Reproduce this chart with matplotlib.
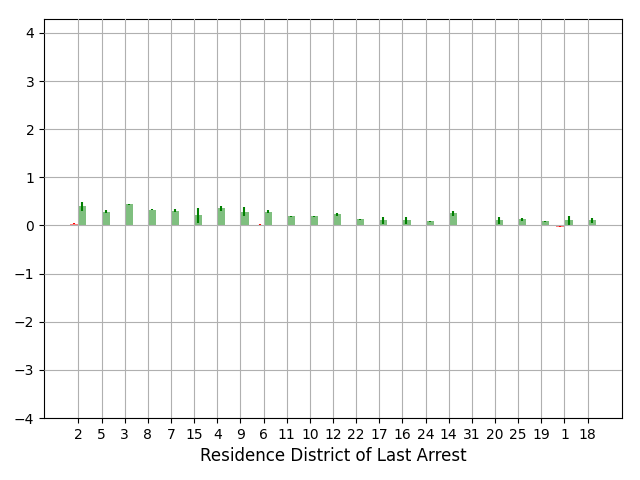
import numpy as np
import matplotlib
matplotlib.use("Agg")
import matplotlib.pyplot as plt

districts = ["2", "5", "3", "8", "7", "15", "4", "9", "6", "11", "10", "12",
             "22", "17", "16", "24", "14", "31", "20", "25", "19", "1", "18"]
red_vals = [0.04, 0.02, 0.01, 0.0, 0.0, 0.01, 0.0, -0.01, 0.01, 0.0, 0.0, 0.0,
            0.0, 0.0, 0.0, 0.0, 0.0, np.nan, 0.0, 0.0, 0.0, -0.025, 0.0]
red_err = [0.015, 0.0, 0.01, 0.0, 0.0, 0.01, 0.0, 0.01, 0.015, 0.005, 0.005, 0.005,
           0.005, 0.005, 0.005, 0.005, 0.005, np.nan, 0.0, 0.0, 0.0, 0.01, 0.0]
green_vals = [0.395, 0.29, 0.436, 0.33, 0.31, 0.21, 0.355, 0.29, 0.29, 0.187, 0.187, 0.229,
              0.125, 0.104, 0.104, 0.083, 0.25, np.nan, 0.104, 0.125, 0.083, 0.104, 0.104]
green_err = [0.09, 0.04, 0.01, 0.015, 0.03, 0.15, 0.05, 0.1, 0.04, 0.02, 0.01, 0.025,
             0.01, 0.08, 0.07, 0.01, 0.05, np.nan, 0.07, 0.035, 0.02, 0.09, 0.06]

fig, ax = plt.subplots(figsize=(6.4, 4.8), dpi=100)
ind = np.arange(len(districts))
width = 0.35
ax.bar(ind - width / 2, red_vals, width, color='red', alpha=0.5,
       yerr=red_err, error_kw=dict(ecolor='red', elinewidth=1.5))
ax.bar(ind + width / 2, green_vals, width, color='green', alpha=0.5,
       yerr=green_err, error_kw=dict(ecolor='green', elinewidth=1.5))
ax.set_xticks(ind)
ax.set_xticklabels(districts)
ax.set_ylim(-4, 4.29)
ax.set_yticks(np.arange(-4, 5, 1))
ax.grid(True)
ax.set_axisbelow(False)
ax.set_xlabel("Residence District of Last Arrest", fontsize=12)
fig.subplots_adjust(left=44/640, right=622/640, top=1-19/480, bottom=1-418/480)
fig.savefig("out.png", dpi=100)
